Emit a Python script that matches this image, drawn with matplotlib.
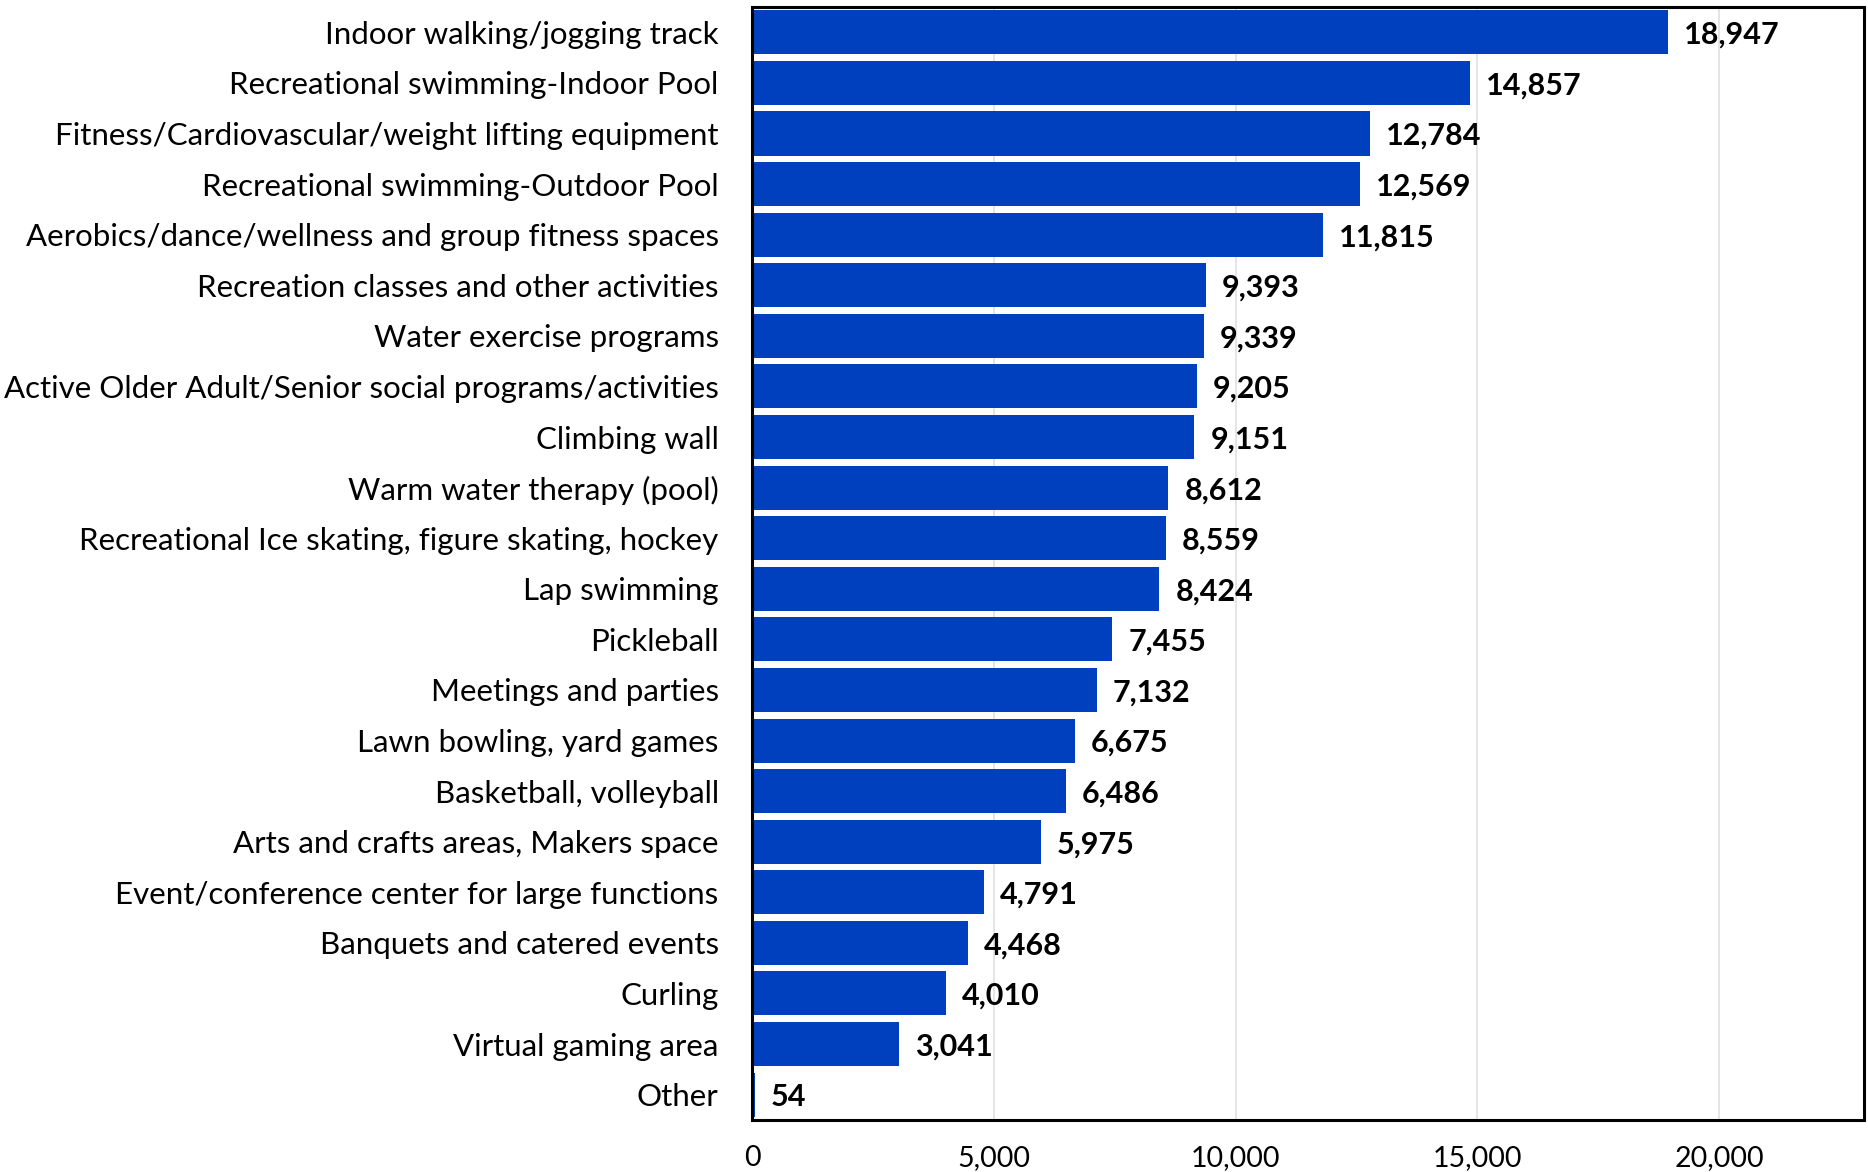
import matplotlib
matplotlib.use('Agg')
import matplotlib.pyplot as plt
from matplotlib.ticker import FuncFormatter

activities = [
    "Indoor walking/jogging track",
    "Recreational swimming-Indoor Pool",
    "Fitness/Cardiovascular/weight lifting equipment",
    "Recreational swimming-Outdoor Pool",
    "Aerobics/dance/wellness and group fitness spaces",
    "Recreation classes and other activities",
    "Water exercise programs",
    "Active Older Adult/Senior social programs/activities",
    "Climbing wall",
    "Warm water therapy (pool)",
    "Recreational Ice skating, figure skating, hockey",
    "Lap swimming",
    "Pickleball",
    "Meetings and parties",
    "Lawn bowling, yard games",
    "Basketball, volleyball",
    "Arts and crafts areas, Makers space",
    "Event/conference center for large functions",
    "Banquets and catered events",
    "Curling",
    "Virtual gaming area",
    "Other",
]
responses = [18947, 14857, 12784, 12569, 11815, 9393, 9339, 9205, 9151, 8612,
             8559, 8424, 7455, 7132, 6675, 6486, 5975, 4791, 4468, 4010, 3041, 54]
x_ticks = [0, 5000, 10000, 15000, 20000]

plt.rcParams['font.family'] = ['Lato', 'DejaVu Sans']

fig = plt.figure(figsize=(18.68, 11.72), dpi=100)
ax = fig.add_axes([0.4026, 0.0444, 0.5953, 0.9496])

pos = list(range(len(activities)))
ax.barh(pos, responses, height=0.87, color='#0040BF', zorder=2)

for y, v in zip(pos, responses):
    ax.text(v + 330, y + 0.05, f"{v:,}", va='center', ha='left',
            fontsize=22, fontweight='bold', color='black')

ax.set_ylim(len(activities) - 0.5, -0.5)
ax.set_xlim(0, 23000)
ax.set_yticks(pos)
ax.set_yticklabels(activities, fontsize=22.5)
ax.set_xticks(x_ticks)
ax.xaxis.set_major_formatter(FuncFormatter(lambda v, _: f"{int(v):,}"))
ax.tick_params(axis='x', labelsize=20.5, length=0, pad=18)
ax.tick_params(axis='y', length=0, pad=24)

ax.grid(axis='x', color='#e0e0e0', linewidth=1.2, zorder=0)
for s in ax.spines.values():
    s.set_linewidth(2.2)
    s.set_color('black')

fig.savefig('out.png', dpi=100)
